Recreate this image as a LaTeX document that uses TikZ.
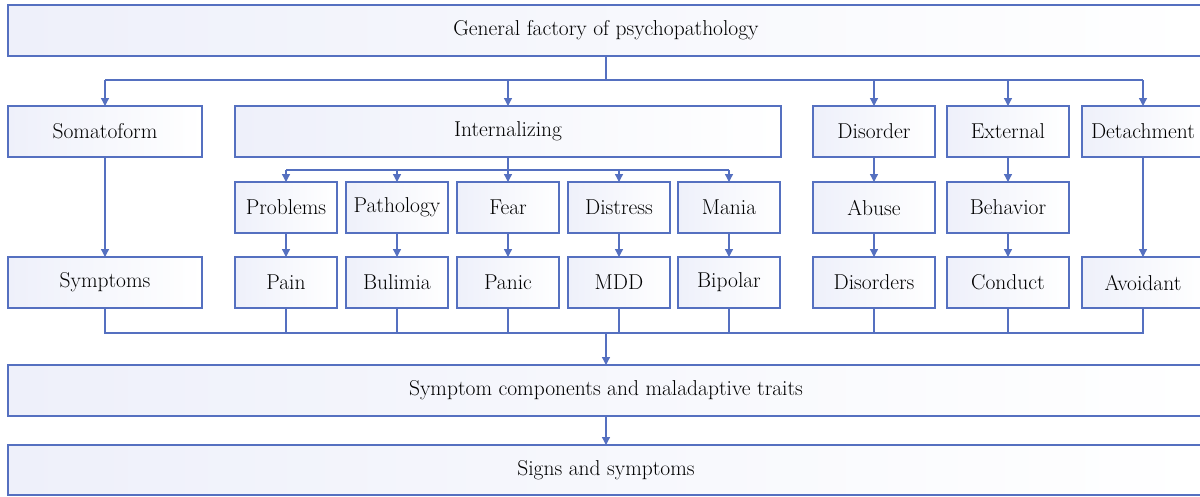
\documentclass[tikz,border=0pt]{standalone}
\usepackage{fontspec}
\usetikzlibrary{arrows.meta}
\definecolor{edgeblue}{HTML}{5570C0}
\definecolor{boxfill}{HTML}{EEF0FA}
\tikzset{
  bx/.style={draw=edgeblue, line width=1.3pt, left color=boxfill, right color=white,
    inner sep=0pt, outer sep=0pt, font=\fontsize{21.5}{24}\selectfont, text=black},
  ln/.style={draw=edgeblue, line width=1.3pt},
  arr/.style={ln, -{Triangle[length=8pt,width=8pt]}}
}
\newcommand\mybox[6]{\node[bx, minimum width={#3-#2}, minimum height={#5-#4}] (#1) at ({(#2+#3)/2},{(#4+#5)/2}) {#6};}
\begin{document}
\begin{tikzpicture}[x=1pt,y=-1pt]
\clip (0,0) rectangle (1200,496);
\fill[white] (0,0) rectangle (1200,496);
\mybox{top}{8}{1204}{5}{56}{General factory of psychopathology}
\mybox{som}{8}{202}{106}{157}{Somatoform}
\mybox{int}{235}{781}{106}{157}{Internalizing}
\mybox{dis}{813}{935}{106}{157}{Disorder}
\mybox{ext}{947}{1069}{106}{157}{External}
\mybox{det}{1082}{1204}{106}{157}{Detachment}
\mybox{prob}{235}{337}{182}{233}{Problems}
\mybox{path}{346}{448}{182}{233}{Pathology}
\mybox{fear}{457}{559}{182}{233}{Fear}
\mybox{distr}{568}{670}{182}{233}{Distress}
\mybox{mania}{678}{780}{182}{233}{Mania}
\mybox{abuse}{813}{935}{182}{233}{Abuse}
\mybox{behav}{947}{1069}{182}{233}{Behavior}
\mybox{sym}{8}{202}{257}{308}{Symptoms}
\mybox{pain}{235}{337}{257}{308}{Pain}
\mybox{bul}{346}{448}{257}{308}{Bulimia}
\mybox{panic}{457}{559}{257}{308}{Panic}
\mybox{mdd}{568}{670}{257}{308}{MDD}
\mybox{bip}{678}{780}{257}{308}{Bipolar}
\mybox{disd}{813}{935}{257}{308}{Disorders}
\mybox{cond}{947}{1069}{257}{308}{Conduct}
\mybox{avoid}{1082}{1204}{257}{308}{Avoidant}
\mybox{comp}{8}{1204}{365}{416}{Symptom components and maladaptive traits}
\mybox{signs}{8}{1204}{445}{495}{Signs and symptoms}
% top branching
\coordinate (tb) at (606,80);
\draw[ln] (top.south) -- (tb);
\draw[ln] (som.north |- tb) -- (det.north |- tb);
\foreach \n in {som,int,dis,ext,det} \draw[arr] (\n.north |- tb) -- (\n.north);
% internalizing branching
\coordinate (ib) at (508,170);
\draw[ln] (int.south) -- (ib);
\draw[ln] (prob.north |- ib) -- (mania.north |- ib);
\foreach \n in {prob,path,fear,distr,mania} \draw[arr] (\n.north |- ib) -- (\n.north);
% row 2 to row 3
\draw[arr] (som.south) -- (sym.north);
\draw[arr] (prob.south) -- (pain.north);
\draw[arr] (path.south) -- (bul.north);
\draw[arr] (fear.south) -- (panic.north);
\draw[arr] (distr.south) -- (mdd.north);
\draw[arr] (mania.south) -- (bip.north);
\draw[arr] (dis.south) -- (abuse.north);
\draw[arr] (abuse.south) -- (disd.north);
\draw[arr] (ext.south) -- (behav.north);
\draw[arr] (behav.south) -- (cond.north);
\draw[arr] (det.south) -- (avoid.north);
% collector
\coordinate (cl) at (606,333);
\draw[ln] (sym.south) -- (sym.south |- cl) -- (avoid.south |- cl) -- (avoid.south);
\foreach \n in {pain,bul,panic,mdd,bip,disd,cond} \draw[ln] (\n.south) -- (\n.south |- cl);
\draw[arr] (cl) -- (comp.north);
\draw[arr] (comp.south) -- (signs.north);
\end{tikzpicture}
\end{document}
